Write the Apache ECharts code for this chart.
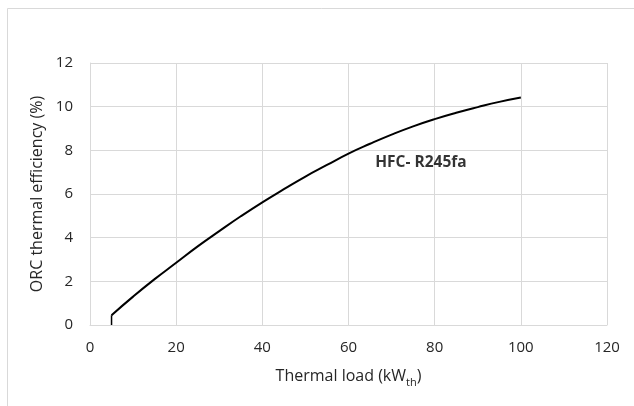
<!DOCTYPE html>
<html>
<head>
<meta charset="utf-8">
<script src="https://cdn.jsdelivr.net/npm/echarts@6/dist/echarts.min.js"></script>
<style>
html,body{margin:0;padding:0;background:#fff;}
#chart{width:634px;height:406px;}
</style>
</head>
<body>
<div id="chart"></div>
<script>
// Data
const thermalLoad = [5, 10, 15, 20, 25, 30, 35, 40, 45, 50, 55, 60, 65, 70, 75, 80, 85, 90, 95, 100];
const efficiency  = [0.45, 1.3, 2.1, 2.85, 3.6, 4.3, 4.98, 5.62, 6.22, 6.8, 7.33, 7.85, 8.3, 8.72, 9.1, 9.43, 9.72, 9.98, 10.22, 10.42];
const dropX = [5, 5];
const dropY = [0, 0.45];
const seriesLabel = 'HFC- R245fa';
const labelAt = [66.2, 7.45];
const xTicks = [0, 20, 40, 60, 80, 100, 120];
const yTicks = [0, 2, 4, 6, 8, 10, 12];

const FONT = '"Open Sans", "Noto Sans", sans-serif';
const TXT = '#262626';
const GRID = '#d9d9d9';

const chart = echarts.init(document.getElementById('chart'), null, {renderer: 'canvas'});
const pts = thermalLoad.map((x, i) => [x, efficiency[i]]);
const drop = dropX.map((x, i) => [x, dropY[i]]);

chart.setOption({
  animation: false,
  backgroundColor: '#fff',
  graphic: [{
    type: 'rect', left: 5, top: 6, silent: true,
    shape: {width: 660, height: 399},
    style: {fill: 'none', stroke: GRID, lineWidth: 1}
  }],
  grid: {left: 90, right: 27, top: 63, bottom: 81, containLabel: false},
  xAxis: {
    type: 'value', min: xTicks[0], max: xTicks[xTicks.length - 1], interval: 20,
    name: '{n|Thermal load (kW}{s|th}{n|)}',
    nameLocation: 'middle', nameGap: 40,
    nameTextStyle: {
      rich: {
        n: {fontFamily: FONT, fontSize: 16, color: TXT},
        s: {fontFamily: FONT, fontSize: 11, color: TXT, verticalAlign: 'bottom', padding: [12, 0, 0, 0]}
      }
    },
    axisLine: {show: true, lineStyle: {color: GRID, width: 1}},
    axisTick: {show: false},
    axisLabel: {fontFamily: FONT, fontSize: 15, color: TXT, margin: 15},
    splitLine: {show: true, lineStyle: {color: GRID, width: 1}}
  },
  yAxis: {
    type: 'value', min: yTicks[0], max: yTicks[yTicks.length - 1], interval: 2,
    name: 'ORC thermal efficiency (%)',
    nameLocation: 'middle', nameGap: 44,
    nameTextStyle: {fontFamily: FONT, fontSize: 16, color: TXT},
    axisLine: {show: true, lineStyle: {color: GRID, width: 1}},
    axisTick: {show: false},
    axisLabel: {fontFamily: FONT, fontSize: 15, color: TXT, margin: 17},
    splitLine: {show: true, lineStyle: {color: GRID, width: 1}}
  },
  series: [{
    type: 'line',
    name: seriesLabel,
    data: pts,
    smooth: true,
    showSymbol: false,
    lineStyle: {color: '#000', width: 2}
  }, {
    type: 'line',
    data: drop,
    showSymbol: false,
    lineStyle: {color: '#000', width: 1.5}
  }, {
    type: 'scatter',
    data: [labelAt],
    symbolSize: 0,
    label: {show: true, formatter: seriesLabel, position: 'right', distance: 0,
      fontFamily: FONT, fontSize: 15.5, fontWeight: 'bold', color: '#000'}
  }]
});
</script>
</body>
</html>
